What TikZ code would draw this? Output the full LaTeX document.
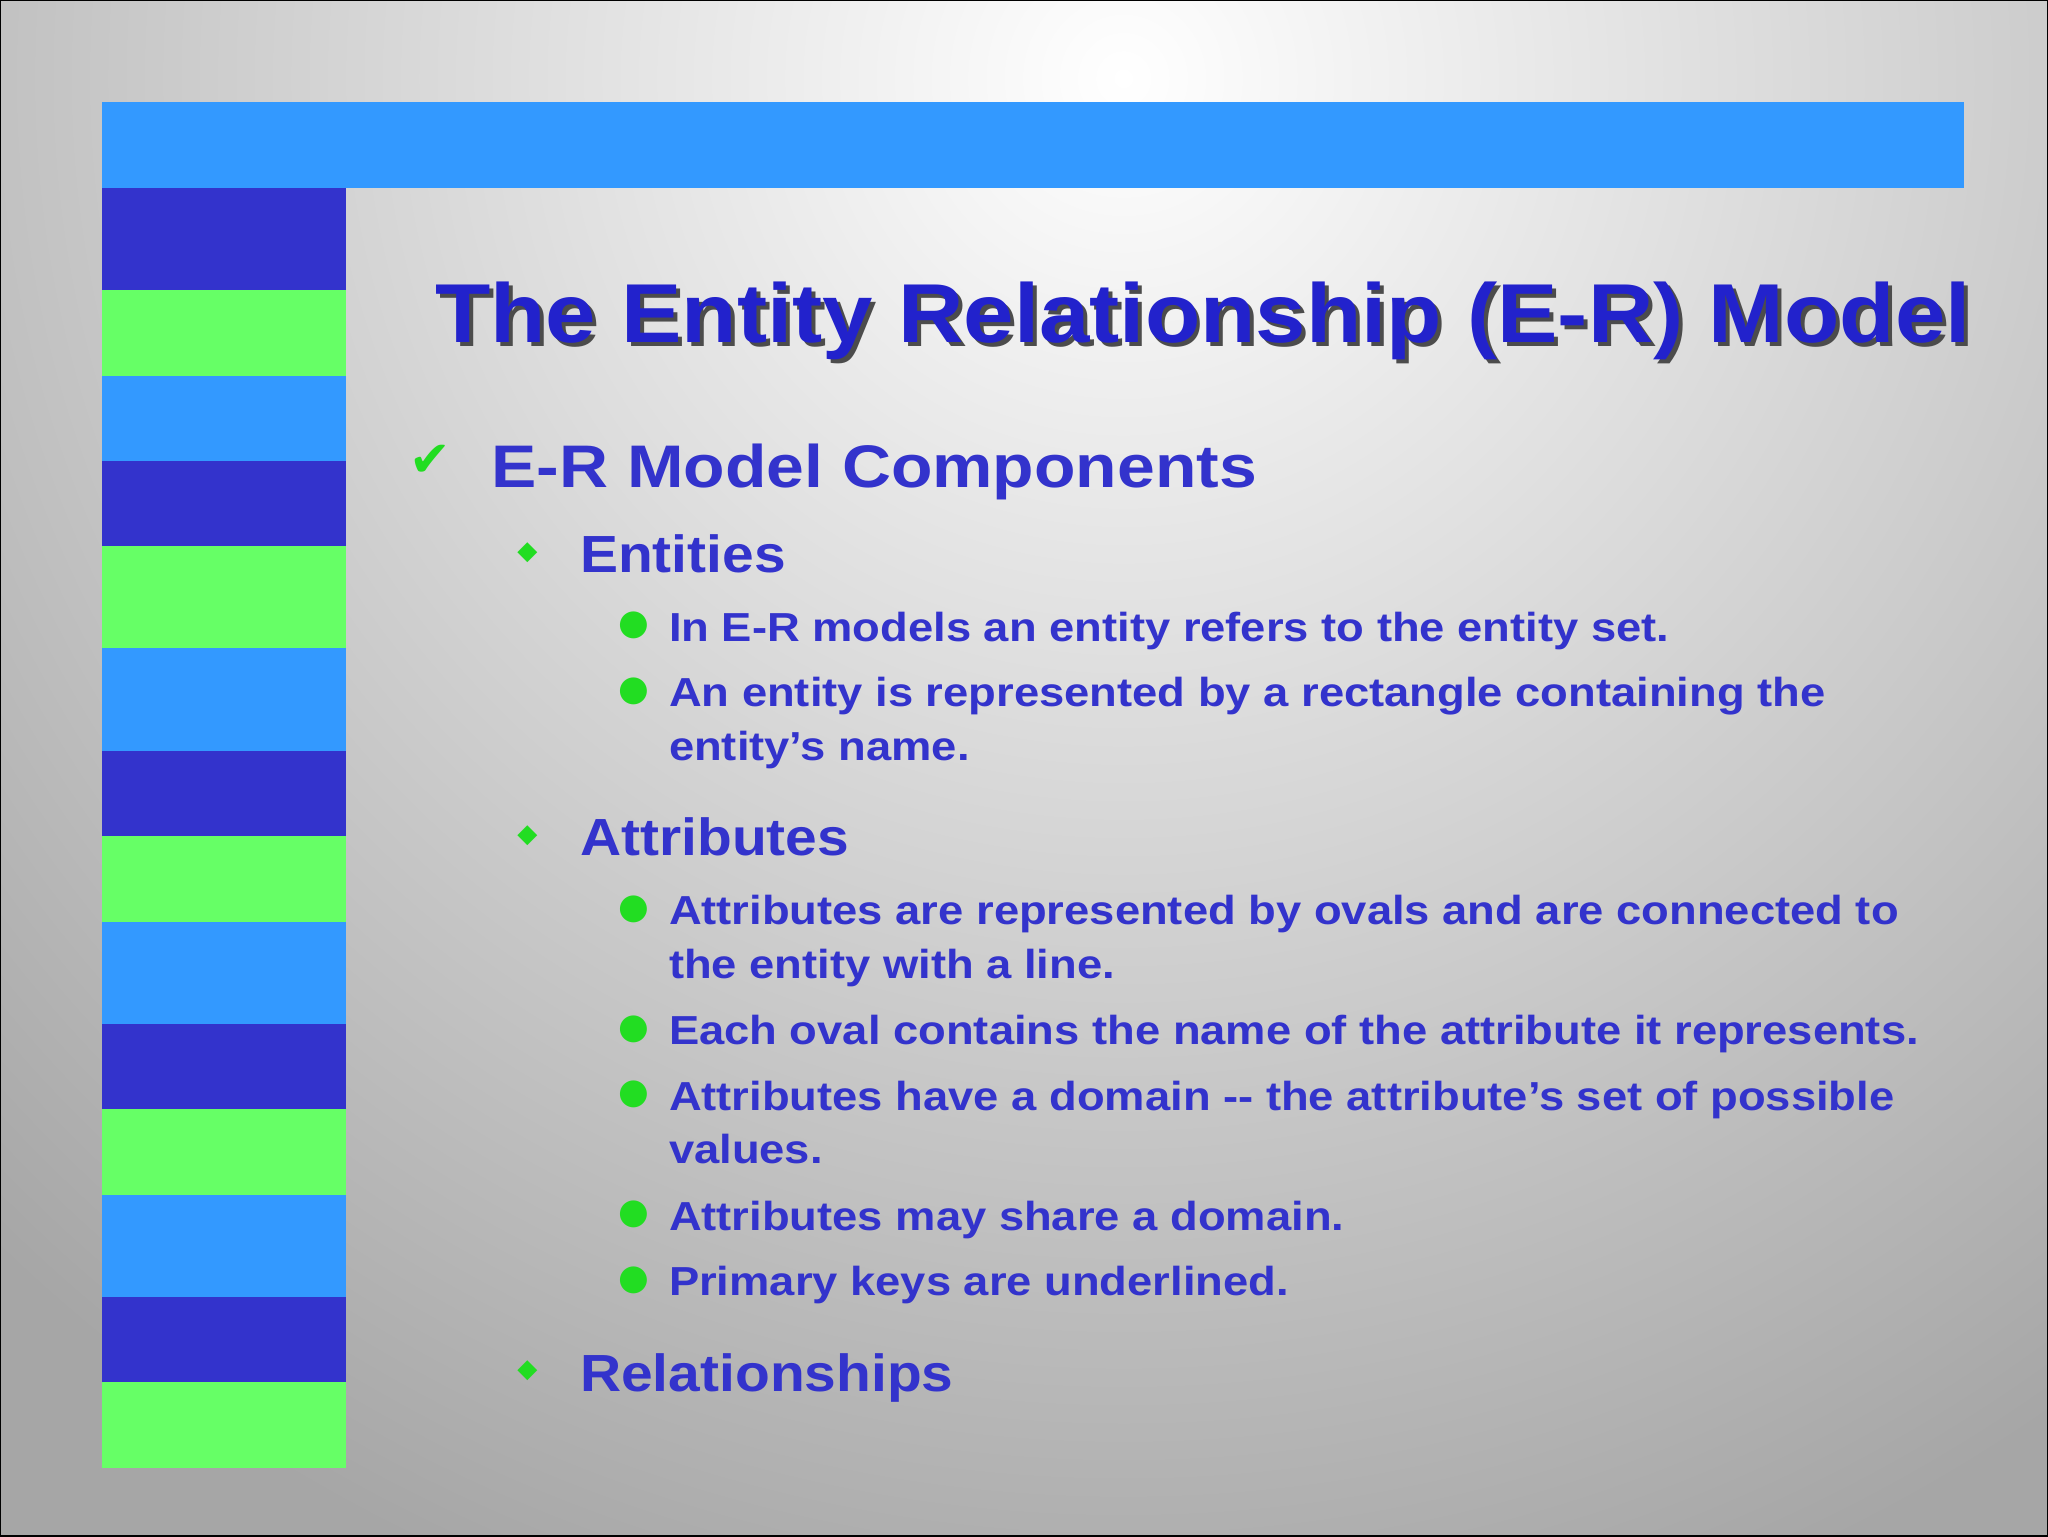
\documentclass[tikz,border=0pt]{standalone}
\usepackage{fontspec}
\setmainfont{Liberation Sans}
\newfontfamily\symf{DejaVu Sans}
\definecolor{dblue}{HTML}{3333CC}
\definecolor{tblue}{HTML}{2222CC}
\definecolor{lblue}{HTML}{3399FF}
\definecolor{lgreen}{HTML}{66FF66}
\definecolor{bgreen}{HTML}{22DD22}
\newcommand{\wx}[2]{\scalebox{#1}[1]{#2}}
\begin{document}
\begin{tikzpicture}[x=1pt,y=-1pt,
 lone/.style={anchor=base west,inner sep=0,text=dblue,font=\fontsize{46}{50}\selectfont\bfseries},
 ltwo/.style={anchor=base west,inner sep=0,text=dblue,font=\fontsize{40}{44}\selectfont\bfseries},
 lthree/.style={anchor=base west,inner sep=0,text=dblue,font=\fontsize{31}{34}\selectfont\bfseries},
 dia/.style={anchor=base west,inner sep=0,text=bgreen,font=\symf\fontsize{20}{22}\selectfont},
 dot/.style={anchor=base west,inner sep=0,text=bgreen,font=\symf\fontsize{27}{30}\selectfont}]
\useasboundingbox (0,0) rectangle (1568,1176);
\begin{scope}
\clip (0,0) rectangle (1568,1176);
\fill[gray!70] (0,0) rectangle (1568,1176);
\shade[inner color=white,outer color=gray!70] (860,60) circle (1250);
\end{scope}
\draw[black,line width=1.5] (0,0) rectangle (1568,1176);
\fill[lblue] (78,78) rectangle (1504,144);
\foreach \a/\b/\c in {144/222/dblue,222/288/lgreen,288/353/lblue,353/418/dblue,418/496/lgreen,496/575/lblue,575/640/dblue,640/706/lgreen,706/784/lblue,784/849/dblue,849/915/lgreen,915/993/lblue,993/1058/dblue,1058/1124/lgreen}
 \fill[\c] (78,\a) rectangle (265,\b);
\node[anchor=base west,inner sep=0,text=gray!60!black,font=\fontsize{64}{70}\selectfont\bfseries] at (336,265) {\wx{1.084}{The Entity Relationship (E-R) Model}};
\node[anchor=base west,inner sep=0,text=tblue,font=\fontsize{64}{70}\selectfont\bfseries] (title) at (333,262) {\wx{1.084}{The Entity Relationship (E-R) Model}};
\node[anchor=base west,inner sep=0,text=bgreen,font=\symf\fontsize{38}{40}\selectfont] (ck) at (313,365) {✔};
\node[lone] (c1) at (376,373) {\wx{1.13}{E-R Model Components}};
\node[dia] (d1) at (396,428) {◆};
\node[ltwo] (e) at (444,438) {\wx{1.09}{Entities}};
\node[dot] (b1) at (473,486) {●};
\node[lthree] (t1) at (512,491) {\wx{1.12}{In E-R models an entity refers to the entity set.}};
\node[dot] (b2) at (473,536) {●};
\node[lthree] (t2) at (512,541) {\wx{1.12}{An entity is represented by a rectangle containing the}};
\node[lthree] (t2b) at (512,582) {\wx{1.12}{entity’s name.}};
\node[dia] (d2) at (396,645) {◆};
\node[ltwo] (a) at (444,655) {\wx{1.09}{Attributes}};
\node[dot] (b3) at (473,703) {●};
\node[lthree] (t3) at (512,708) {\wx{1.12}{Attributes are represented by ovals and are connected to}};
\node[lthree] (t3b) at (512,749) {\wx{1.12}{the entity with a line.}};
\node[dot] (b4) at (473,795) {●};
\node[lthree] (t4) at (512,800) {\wx{1.12}{Each oval contains the name of the attribute it represents.}};
\node[dot] (b5) at (473,845) {●};
\node[lthree] (t5) at (512,850) {\wx{1.12}{Attributes have a domain -{}- the attribute’s set of possible}};
\node[lthree] (t5b) at (512,891) {\wx{1.12}{values.}};
\node[dot] (b6) at (473,937) {●};
\node[lthree] (t6) at (512,942) {\wx{1.12}{Attributes may share a domain.}};
\node[dot] (b7) at (473,987) {●};
\node[lthree] (t7) at (512,992) {\wx{1.12}{Primary keys are underlined.}};
\node[dia] (d3) at (396,1055) {◆};
\node[ltwo] (r) at (444,1065) {\wx{1.09}{Relationships}};
\end{tikzpicture}
\end{document}
